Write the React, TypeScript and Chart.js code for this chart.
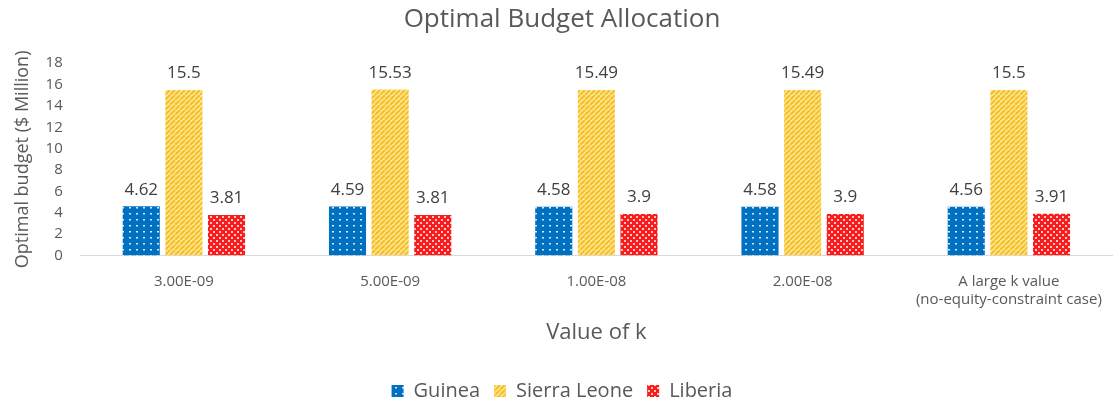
import React, { useEffect, useRef } from "react";
import { Chart, registerables } from "chart.js";

Chart.register(...registerables);

const categories: (string | string[])[] = [
  "3.00E-09",
  "5.00E-09",
  "1.00E-08",
  "2.00E-08",
  ["A large k value", "(no-equity-constraint case)"],
];
const guinea = [4.62, 4.59, 4.58, 4.58, 4.56];
const sierraLeone = [15.5, 15.53, 15.49, 15.49, 15.5];
const liberia = [3.81, 3.81, 3.9, 3.9, 3.91];
const yTicks = [0, 2, 4, 6, 8, 10, 12, 14, 16, 18];

const FONT = "'Open Sans', 'Liberation Sans', sans-serif";

function makePattern(kind: string): CanvasPattern | string {
  const c = document.createElement("canvas");
  const ctx = c.getContext("2d");
  if (!ctx) return "#888";
  if (kind === "dots") {
    c.width = 7;
    c.height = 6;
    ctx.fillStyle = "#0070C0";
    ctx.fillRect(0, 0, 7, 6);
    ctx.fillStyle = "rgba(255,255,255,0.85)";
    ctx.fillRect(3, 3, 2, 1.5);
  } else if (kind === "stripes") {
    c.width = 5;
    c.height = 5;
    ctx.fillStyle = "#FFEBA6";
    ctx.fillRect(0, 0, 5, 5);
    ctx.strokeStyle = "#F6C12B";
    ctx.lineWidth = 2.4;
    ctx.beginPath();
    for (let k = -5; k <= 10; k += 5) {
      ctx.moveTo(k, 5);
      ctx.lineTo(k + 5, 0);
    }
    ctx.stroke();
  } else {
    c.width = 6;
    c.height = 6;
    ctx.fillStyle = "#F81C1C";
    ctx.fillRect(0, 0, 6, 6);
    ctx.fillStyle = "#FFC4C4";
    ctx.fillRect(0, 0, 2, 2);
    ctx.fillRect(3, 3, 2, 2);
  }
  return ctx.createPattern(c, "repeat") || "#888";
}

const valueLabels = {
  id: "valueLabels",
  afterDatasetsDraw(chart: any) {
    const ctx = chart.ctx;
    ctx.save();
    ctx.font = `17px ${FONT}`;
    ctx.fillStyle = "#404040";
    ctx.textAlign = "center";
    ctx.textBaseline = "bottom";
    chart.data.datasets.forEach((ds: any, i: number) => {
      const meta = chart.getDatasetMeta(i);
      if (meta.hidden) return;
      meta.data.forEach((bar: any, j: number) => {
        ctx.fillText(String(ds.data[j]), bar.x, bar.y - 8);
      });
    });
    ctx.restore();
  },
};

export default function App() {
  const ref = useRef<HTMLCanvasElement | null>(null);
  useEffect(() => {
    document.body.style.margin = "0";
    if (!ref.current) return;
    const chart = new Chart(ref.current, {
      type: "bar",
      data: {
        labels: categories,
        datasets: [
          { label: "Guinea", data: guinea, backgroundColor: makePattern("dots") as any },
          { label: "Sierra Leone", data: sierraLeone, backgroundColor: makePattern("stripes") as any },
          { label: "Liberia", data: liberia, backgroundColor: makePattern("checks") as any },
        ],
      },
      options: {
        animation: false,
        responsive: true,
        maintainAspectRatio: false,
        layout: { padding: { left: 12, right: 4, top: 0, bottom: 0 } },
        datasets: {
          bar: { categoryPercentage: 0.62, barPercentage: 0.87 },
        },
        plugins: {
          title: {
            display: true,
            text: "Optimal Budget Allocation",
            color: "#595959",
            font: { family: FONT, size: 26, weight: "normal" },
            padding: { top: 4, bottom: 28 },
          },
          legend: {
            position: "bottom",
            labels: {
              color: "#595959",
              font: { family: FONT, size: 20 },
              boxWidth: 12,
              boxHeight: 12,
              padding: 14,
            },
          },
          tooltip: { enabled: false },
        },
        scales: {
          x: {
            grid: { display: false },
            border: { display: true, color: "#D9D9D9" },
            ticks: { color: "#595959", font: { family: FONT, size: 15 }, maxRotation: 0, padding: 9 },
            title: {
              display: true,
              text: "Value of k",
              color: "#595959",
              font: { family: FONT, size: 22 },
              padding: { top: 2, bottom: 21 },
            },
          },
          y: {
            min: 0,
            max: 18,
            afterBuildTicks: (axis: any) => {
              axis.ticks = yTicks.map((v) => ({ value: v }));
            },
            grid: { display: false },
            border: { display: false },
            ticks: { color: "#595959", font: { family: FONT, size: 15 }, padding: 10, autoSkip: false },
            title: {
              display: true,
              text: "Optimal budget ($ Million)",
              color: "#595959",
              font: { family: FONT, size: 18 },
              padding: { top: 0, bottom: 2 },
            },
          },
        },
      },
      plugins: [valueLabels],
    });
    return () => chart.destroy();
  }, []);
  return (
    <div style={{ width: 1116, height: 411, position: "relative" }}>
      <canvas ref={ref} />
    </div>
  );
}
